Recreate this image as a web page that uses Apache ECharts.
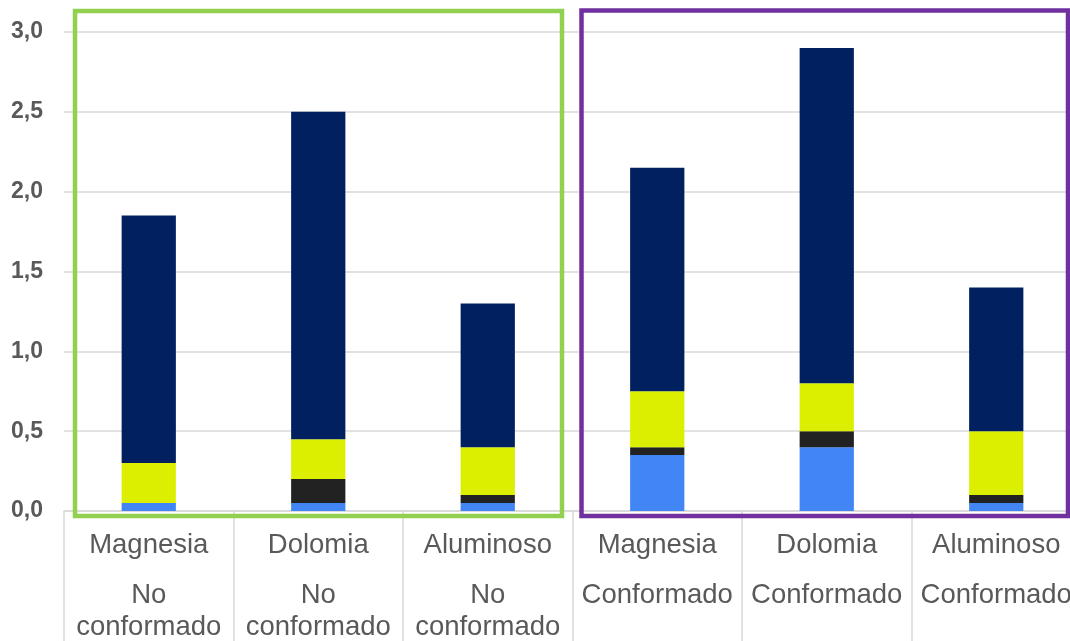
<!DOCTYPE html>
<html>
<head>
<meta charset="utf-8">
<script src="https://cdn.jsdelivr.net/npm/echarts@6/dist/echarts.min.js"></script>
<style>
  html, body { margin: 0; padding: 0; background: #fff; }
  #chart { width: 1070px; height: 641px; }
</style>
</head>
<body>
<div id="chart"></div>
<script>
// Refractory types and forming condition (two-level category labels)
const materials = ['Magnesia', 'Dolomia', 'Aluminoso', 'Magnesia', 'Dolomia', 'Aluminoso'];
const conditions = ['No\nconformado', 'No\nconformado', 'No\nconformado', 'Conformado', 'Conformado', 'Conformado'];

// Stacked components, bottom to top
const serie1 = [0.05, 0.05, 0.05, 0.35, 0.40, 0.05];
const serie2 = [0.00, 0.15, 0.05, 0.05, 0.10, 0.05];
const serie3 = [0.25, 0.25, 0.30, 0.35, 0.30, 0.40];
const serie4 = [1.55, 2.05, 0.90, 1.40, 2.10, 0.90];

const yTicks = { min: 0, max: 3, interval: 0.5 };

const colors = ['#4285f4', '#222222', '#dcef00', '#002060'];
const seriesData = [serie1, serie2, serie3, serie4];
const seriesNames = ['Serie 1', 'Serie 2', 'Serie 3', 'Serie 4'];

const chart = echarts.init(document.getElementById('chart'));

const categories = materials.map((m, i) => m + '|' + conditions[i]);
const font = 'Liberation Sans, Arial, sans-serif';

chart.setOption({
  animation: false,
  grid: { left: 64, top: 32, width: 1017, bottom: 130, outerBoundsMode: 'none', containLabel: false },
  xAxis: {
    type: 'category',
    data: categories,
    axisLine: { lineStyle: { color: '#d9d9d9', width: 1.5 } },
    axisTick: { show: true, interval: 0, length: 130, lineStyle: { color: '#d9d9d9', width: 1.5 } },
    axisLabel: {
      interval: 0,
      margin: 0,
      hideOverlap: false,
      formatter: function (v) {
        const parts = v.split('|');
        const lines = parts[1].split('\n').map(s => '{b|' + s + '}');
        return '{a|' + parts[0] + '}\n' + lines.join('\n');
      },
      rich: {
        a: { fontFamily: font, fontSize: 27.5, color: '#595959', lineHeight: 68 },
        b: { fontFamily: font, fontSize: 27.5, color: '#595959', lineHeight: 32 }
      }
    }
  },
  yAxis: {
    type: 'value',
    min: yTicks.min,
    max: yTicks.max,
    interval: yTicks.interval,
    axisLine: { show: false },
    axisTick: { show: false },
    splitLine: { lineStyle: { color: '#d9d9d9', width: 1.5 } },
    axisLabel: {
      margin: 21,
      fontFamily: font,
      fontSize: 23,
      fontWeight: 'bold',
      color: '#595959',
      formatter: v => v.toFixed(1).replace('.', ',')
    }
  },
  series: seriesData.map((d, i) => ({
    name: seriesNames[i],
    type: 'bar',
    stack: 'total',
    barWidth: '32%',
    itemStyle: { color: colors[i] },
    data: d
  })),
  graphic: [
    {
      type: 'rect',
      shape: { x: 75, y: 11, width: 487, height: 505 },
      style: { fill: 'none', stroke: '#92d050', lineWidth: 4.5 },
      z: 100
    },
    {
      type: 'rect',
      shape: { x: 581.5, y: 10.5, width: 486.5, height: 505.5 },
      style: { fill: 'none', stroke: '#7030a0', lineWidth: 4.5 },
      z: 100
    }
  ]
});
</script>
</body>
</html>
